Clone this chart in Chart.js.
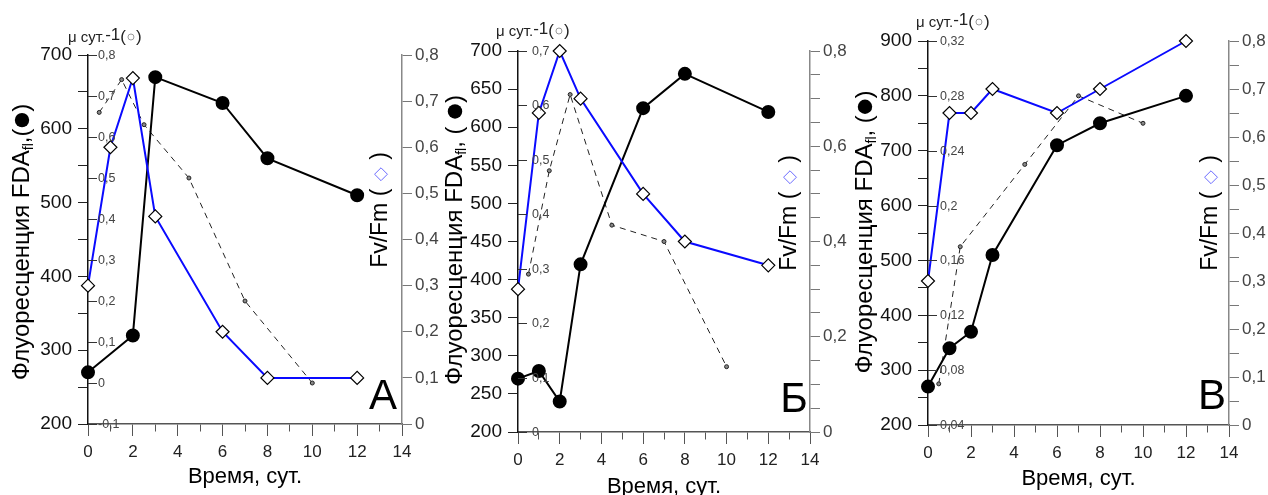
<!DOCTYPE html>
<html>
<head>
<meta charset="UTF-8">
<script src="https://cdn.jsdelivr.net/npm/chart.js@4/dist/chart.umd.min.js"></script>
<style>
body{margin:0;background:#fff;width:1268px;height:495px;position:relative;overflow:hidden}
canvas{position:absolute;top:0}
</style>
</head>
<body>
<canvas id="cA" width="460" height="495" style="left:0px"></canvas>
<canvas id="cB" width="440" height="495" style="left:430px"></canvas>
<canvas id="cC" width="418" height="495" style="left:850px"></canvas>
<script>
// panel A
var daysFda_A = [0, 2, 3, 6, 8, 12];
var fda_A = [270, 320, 670, 635, 560, 510];
var daysFv_A = [0, 1, 2, 3, 6, 8, 12];
var fvfm_A = [0.30, 0.60, 0.75, 0.45, 0.20, 0.10, 0.10];
var daysMu_A = [0.5, 1.5, 2.5, 4.5, 7, 10];
var mu_A = [0.66, 0.74, 0.63, 0.50, 0.20, 0.00];

// panel B
var daysFda_B = [0, 1, 2, 3, 6, 8, 12];
var fda_B = [270, 280, 240, 420, 625, 670, 620];
var daysFv_B = [0, 1, 2, 3, 6, 8, 12];
var fvfm_B = [0.30, 0.67, 0.80, 0.70, 0.50, 0.40, 0.35];
var daysMu_B = [0.5, 1.5, 2.5, 4.5, 7, 10];
var mu_B = [0.29, 0.48, 0.62, 0.38, 0.35, 0.12];

// panel C
var daysFda_C = [0, 1, 2, 3, 6, 8, 12];
var fda_C = [270, 340, 370, 510, 710, 750, 800];
var daysFv_C = [0, 1, 2, 3, 6, 8, 12];
var fvfm_C = [0.30, 0.65, 0.65, 0.70, 0.65, 0.70, 0.80];
var daysMu_C = [0.5, 1.5, 4.5, 7, 10];
var mu_C = [0.07, 0.17, 0.23, 0.28, 0.26];

var xTitle = 'Время, сут.';
var leftTitle = 'Флуоресценция FDA';
var rightTitle = 'Fv/Fm';
var muTitle = 'μ сут.';

var FONT = '"Liberation Sans", Arial, sans-serif';

function fmt(v) {
  return String(Math.round(v * 100) / 100).replace('.', ',');
}
function pts(xs, ys) {
  return xs.map(function (x, i) { return {x: x, y: ys[i]}; });
}

function rotRun(ctx, x, y, parts, size) {
  ctx.save();
  ctx.translate(x, y);
  ctx.rotate(-Math.PI / 2);
  ctx.textBaseline = 'middle';
  ctx.textAlign = 'left';
  var w = 0;
  parts.forEach(function (p) {
    if (p.sym) { p.w = size * 0.7; }
    else { ctx.font = (p.sub ? Math.round(size * 0.6) : size) + 'px ' + FONT; p.w = ctx.measureText(p.t).width; }
    w += p.w;
  });
  var cx = -w / 2;
  parts.forEach(function (p) {
    if (p.sym === 'dot') {
      ctx.fillStyle = '#000';
      ctx.beginPath(); ctx.arc(cx + p.w / 2, 0, size * 0.3, 0, 2 * Math.PI); ctx.fill();
    } else if (p.sym === 'dia') {
      var r = size * 0.28;
      ctx.strokeStyle = '#6a6aff'; ctx.lineWidth = 1;
      ctx.beginPath();
      ctx.moveTo(cx + p.w / 2 - r, 0); ctx.lineTo(cx + p.w / 2, -r);
      ctx.lineTo(cx + p.w / 2 + r, 0); ctx.lineTo(cx + p.w / 2, r);
      ctx.closePath(); ctx.stroke();
    } else {
      ctx.font = (p.sub ? Math.round(size * 0.6) : size) + 'px ' + FONT;
      ctx.fillStyle = '#000';
      ctx.fillText(p.t, cx, p.sub ? size * 0.3 : 0);
    }
    cx += p.w;
  });
  ctx.restore();
}

var decor = {
  id: 'decor',
  afterDraw: function (chart, args, o) {
    var ctx = chart.ctx, a = chart.chartArea, mu = chart.scales.yMu;
    ctx.save();
    // inner μ axis
    ctx.strokeStyle = '#333'; ctx.lineWidth = 1;
    ctx.fillStyle = '#444'; ctx.font = '12.5px ' + FONT;
    ctx.textAlign = 'left'; ctx.textBaseline = 'middle';
    mu.ticks.forEach(function (t) {
      var y = Math.round(mu.getPixelForValue(t.value)) + 0.5;
      ctx.beginPath(); ctx.moveTo(a.left, y); ctx.lineTo(a.left + 9, y); ctx.stroke();
      ctx.fillText(fmt(t.value), a.left + o.muPad, y);
    });
    // μ header
    ctx.fillStyle = '#222';
    ctx.font = '15px ' + FONT;
    var x = o.hx;
    ctx.fillText(muTitle, x, o.hy + 1); x += ctx.measureText(muTitle).width;
    ctx.font = '17px ' + FONT;
    ctx.fillText('-1', x, o.hy - 2); x += ctx.measureText('-1').width;
    ctx.fillText('(', x, o.hy); x += ctx.measureText('(').width + 1;
    ctx.strokeStyle = '#999';
    ctx.beginPath(); ctx.arc(x + 4, o.hy, 3, 0, 2 * Math.PI); ctx.stroke();
    x += 9;
    ctx.fillText(')', x, o.hy);
    // panel letter
    ctx.fillStyle = '#000';
    ctx.textAlign = 'center';
    ctx.font = '42px ' + FONT;
    ctx.fillText(o.letter, o.letX, o.letY);
    // x title
    ctx.font = '22px ' + FONT;
    ctx.fillText(xTitle, (a.left + a.right) / 2, o.xty);
    ctx.restore();
    // rotated titles
    rotRun(ctx, o.lx, o.ly, [{t: leftTitle}, {t: 'fl', sub: true}, {t: o.comma}, {sym: 'dot'}, {t: ')'}], 24);
    rotRun(ctx, o.rx, o.ry, [{t: rightTitle + ' ( '}, {sym: 'dia'}, {t: ' )'}], 23);
  }
};

function makePanel(id, cfg) {
  var W = cfg.W, H = 495;
  return new Chart(document.getElementById(id), {
    type: 'line',
    data: {
      datasets: [{
        data: pts(cfg.dFv, cfg.fv), yAxisID: 'yR',
        borderColor: '#0a0aff', borderWidth: 2,
        pointStyle: 'rectRot', pointRadius: 6.5,
        pointBackgroundColor: '#fff', pointBorderColor: '#000', pointBorderWidth: 1.2,
        clip: false
      }, {
        data: pts(cfg.dFda, cfg.fda), yAxisID: 'y',
        borderColor: '#000', borderWidth: 2,
        pointRadius: 6, pointBackgroundColor: '#000', pointBorderColor: '#000',
        clip: false
      }, {
        data: pts(cfg.dMu, cfg.mu), yAxisID: 'yMu',
        borderColor: '#222', borderWidth: 1, borderDash: [6, 5],
        pointRadius: 2, pointBackgroundColor: '#888', pointBorderColor: '#222', pointBorderWidth: 1,
        clip: false
      }]
    },
    options: {
      responsive: false,
      animation: false,
      layout: {padding: {top: cfg.top, left: 0, right: 0, bottom: 0}},
      plugins: {
        legend: {display: false},
        tooltip: {enabled: false},
        decor: cfg.decor
      },
      scales: {
        x: {
          type: 'linear', min: 0, max: 14,
          ticks: {
            stepSize: 1, autoSkip: false, maxRotation: 0, minRotation: 0, padding: 6,
            color: '#222', font: {size: 17, family: FONT},
            callback: function (v) { return v % 2 === 0 ? v : ''; }
          },
          grid: {
            drawOnChartArea: false, tickLength: 12, tickColor: '#555',
            tickBorderDash: function (c) { return c.tick && c.tick.value % 2 ? [7, 40] : []; }
          },
          border: {color: '#555', width: 1.5},
          afterFit: function (s) { s.height = H - cfg.bottom; }
        },
        y: {
          position: 'left', min: cfg.fMin, max: cfg.fMax,
          ticks: {
            stepSize: cfg.fStep, padding: 6, color: '#111', font: {size: 19, family: FONT},
            callback: function (v) { return v % cfg.fLab === 0 ? v : ''; }
          },
          grid: {drawOnChartArea: false, tickLength: 10, tickColor: '#222'},
          border: {color: '#111', width: 1.5},
          afterFit: function (s) { s.width = cfg.left; }
        },
        yMu: {
          position: 'left', display: false, min: cfg.mMin, max: cfg.mMax,
          ticks: {stepSize: cfg.mStep}
        },
        yR: {
          position: 'right', min: 0, max: 0.8,
          ticks: {
            stepSize: 0.05, padding: 3, color: '#444', font: {size: 17, family: FONT},
            callback: function (v) { return Math.round(v * 100) % cfg.rLab === 0 ? fmt(v) : ''; }
          },
          grid: {drawOnChartArea: false, tickLength: 10, tickColor: '#777'},
          border: {color: '#888', width: 1.5},
          afterFit: function (s) { s.width = W - cfg.right; }
        }
      }
    },
    plugins: [decor]
  });
}

makePanel('cA', {
  W: 460, left: 88, right: 402, top: 55, bottom: 424,
  dFda: daysFda_A, fda: fda_A, dFv: daysFv_A, fv: fvfm_A, dMu: daysMu_A, mu: mu_A,
  fMin: 200, fMax: 700, fStep: 50, fLab: 100,
  mMin: -0.1, mMax: 0.8, mStep: 0.1, rLab: 10,
  decor: {muPad: 10, hx: 68, hy: 37, letter: 'А', letX: 383, letY: 397, xty: 477,
          lx: 22, ly: 242, rx: 381, ry: 210, comma: ',('}
});
makePanel('cB', {
  W: 440, left: 88, right: 380, top: 51, bottom: 432,
  dFda: daysFda_B, fda: fda_B, dFv: daysFv_B, fv: fvfm_B, dMu: daysMu_B, mu: mu_B,
  fMin: 200, fMax: 700, fStep: 25, fLab: 50,
  mMin: 0, mMax: 0.7, mStep: 0.1, rLab: 20,
  decor: {muPad: 14, hx: 66, hy: 31, letter: 'Б', letX: 364, letY: 400, xty: 487,
          lx: 25, ly: 240, rx: 360, ry: 213, comma: ', ( '}
});
makePanel('cC', {
  W: 418, left: 78, right: 379, top: 41, bottom: 425,
  dFda: daysFda_C, fda: fda_C, dFv: daysFv_C, fv: fvfm_C, dMu: daysMu_C, mu: mu_C,
  fMin: 200, fMax: 900, fStep: 50, fLab: 100,
  mMin: 0.04, mMax: 0.32, mStep: 0.04, rLab: 10,
  decor: {muPad: 12, hx: 66, hy: 22, letter: 'В', letX: 362, letY: 397, xty: 479,
          lx: 15, ly: 232, rx: 361, ry: 213, comma: ', ('}
});
</script>
</body>
</html>
